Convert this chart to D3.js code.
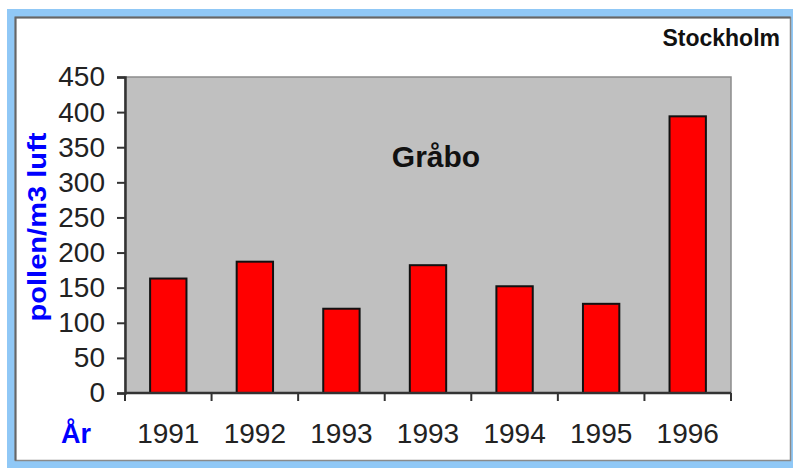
<!DOCTYPE html>
<html>
<head>
<meta charset="utf-8">
<script src="https://cdnjs.cloudflare.com/ajax/libs/d3/7.8.5/d3.min.js"></script>
<style>
  body { margin: 0; background: #fff; }
  text { font-family: Arial, "Liberation Sans", sans-serif; }
</style>
</head>
<body>
<div id="chart"></div>
<script>
// pollen data, Gråbo (Stockholm)
var years = ["1991", "1992", "1993", "1993", "1994", "1995", "1996"];
var pollen = [163, 187, 120, 182, 152, 127, 394];
var yTicks = [0, 50, 100, 150, 200, 250, 300, 350, 400, 450];

var width = 793,
    height = 468;

var svg = d3.select("#chart")
    .append("svg")
    .attr("width", width)
    .attr("height", height);

// window frame
svg.append("rect")
    .attr("x", 7).attr("y", 9)
    .attr("width", 786).attr("height", 459)
    .attr("fill", "#90c8f6");
svg.append("rect")
    .attr("x", 15.5).attr("y", 17.5)
    .attr("width", 775).attr("height", 443)
    .attr("fill", "#fff")
    .attr("stroke", "#8a8a8a")
    .attr("stroke-width", 1.5);
svg.append("path")
    .attr("d", "M15.5,460.5V17.5H790.5")
    .attr("fill", "none")
    .attr("stroke", "#666")
    .attr("stroke-width", 2);

var plotLeft = 125, plotRight = 731, plotTop = 77, plotBottom = 393;

var x = d3.scaleBand()
    .domain(d3.range(years.length))
    .range([plotLeft, plotRight])
    .paddingInner(0.58)
    .paddingOuter(0.29);

var y = d3.scaleLinear()
    .domain([0, 450])
    .range([plotBottom, plotTop]);

// plot background
svg.append("rect")
    .attr("x", plotLeft).attr("y", plotTop)
    .attr("width", plotRight - plotLeft).attr("height", plotBottom - plotTop)
    .attr("fill", "#c0c0c0")
    .attr("stroke", "#8c8c8c")
    .attr("stroke-width", 1.5);

// bars
svg.selectAll(".bar")
    .data(pollen)
    .enter().append("rect")
    .attr("class", "bar")
    .attr("x", function (d, i) { return x(i) })
    .attr("y", function (d) { return y(d) })
    .attr("width", x.bandwidth())
    .attr("height", function (d) { return y(0) - y(d) })
    .attr("fill", "#ff0000")
    .attr("stroke", "#111")
    .attr("stroke-width", 2);

// y axis
var yAxis = d3.axisLeft(y)
    .tickValues(yTicks)
    .tickSize(8)
    .tickPadding(12);
var gy = svg.append("g")
    .attr("transform", "translate(" + plotLeft + ",0)")
    .call(yAxis);
gy.select(".domain").attr("stroke", "#333").attr("stroke-width", 2.5);
gy.selectAll(".tick line").attr("stroke", "#333").attr("stroke-width", 2);
gy.selectAll(".tick text")
    .attr("font-size", 28)
    .attr("font-family", "Arial, 'Liberation Sans', sans-serif")
    .attr("fill", "#222");

// x axis: ticks between categories
var step = x.step();
var xBounds = d3.range(years.length + 1).map(function (i) { return plotLeft + i * step });
svg.append("line")
    .attr("x1", plotLeft).attr("x2", plotRight)
    .attr("y1", plotBottom).attr("y2", plotBottom)
    .attr("stroke", "#333").attr("stroke-width", 2.5);
svg.selectAll(".xtick")
    .data(xBounds)
    .enter().append("line")
    .attr("class", "xtick")
    .attr("x1", function (d) { return d }).attr("x2", function (d) { return d })
    .attr("y1", plotBottom).attr("y2", plotBottom + 8)
    .attr("stroke", "#333").attr("stroke-width", 2);
svg.selectAll(".xlabel")
    .data(years)
    .enter().append("text")
    .attr("class", "xlabel")
    .attr("x", function (d, i) { return x(i) + x.bandwidth() / 2 })
    .attr("y", 443)
    .attr("text-anchor", "middle")
    .attr("font-size", 28)
    .attr("fill", "#222")
    .text(function (d) { return d });

// titles
svg.append("text")
    .attr("x", 436).attr("y", 167)
    .attr("text-anchor", "middle")
    .attr("font-size", 30)
    .attr("font-weight", "bold")
    .attr("fill", "#111")
    .text("Gråbo");

svg.append("text")
    .attr("x", 780).attr("y", 46)
    .attr("text-anchor", "end")
    .attr("font-size", 23)
    .attr("font-weight", "bold")
    .attr("fill", "#111")
    .text("Stockholm");

svg.append("text")
    .attr("transform", "translate(46,227) rotate(-90)")
    .attr("text-anchor", "middle")
    .attr("font-size", 26)
    .attr("font-weight", "bold")
    .attr("fill", "#0000ff")
    .attr("textLength", 189)
    .attr("lengthAdjust", "spacingAndGlyphs")
    .text("pollen/m3 luft");

svg.append("text")
    .attr("x", 61).attr("y", 443)
    .attr("font-size", 27)
    .attr("font-weight", "bold")
    .attr("fill", "#0000ff")
    .text("År");
</script>
</body>
</html>
